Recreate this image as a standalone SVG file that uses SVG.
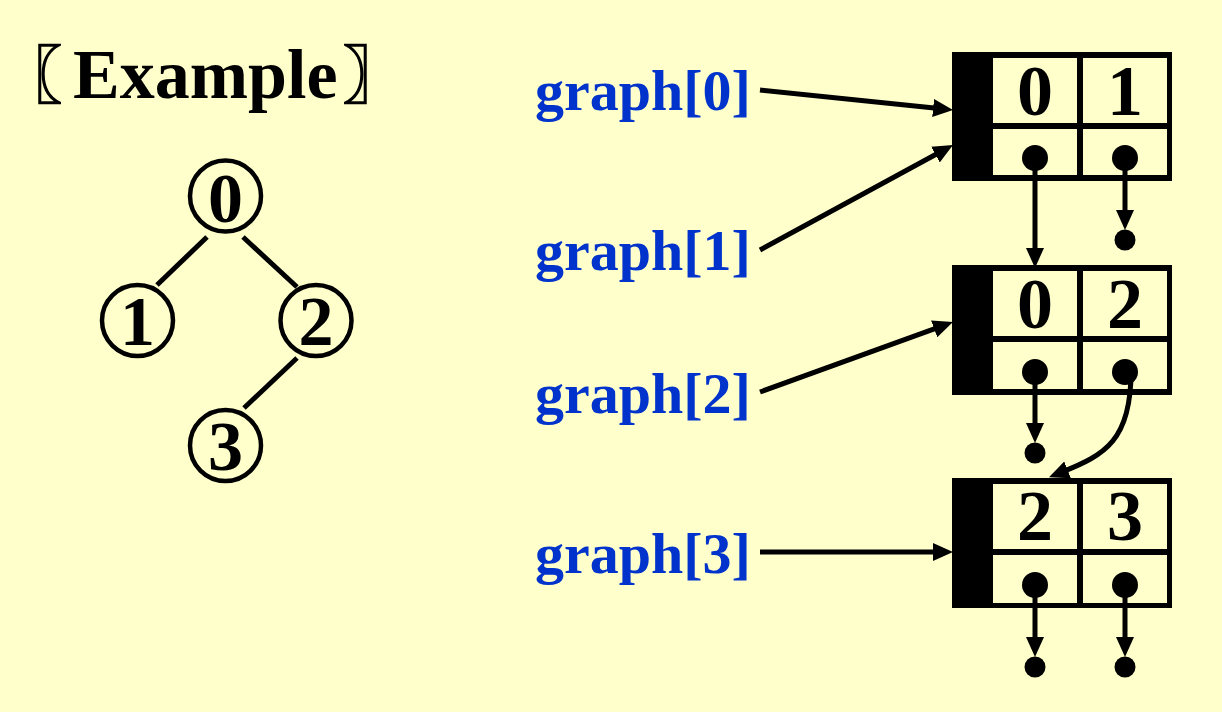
<svg xmlns="http://www.w3.org/2000/svg" width="1222" height="712" viewBox="0 0 1222 712">
<style>
.bg{fill:#FFFFCC}
.cell{fill:#FFFFCC}
.blk{fill:#000}
.num{font-family:"Liberation Serif","Times New Roman",serif;font-weight:bold;font-size:72px;fill:#000;text-anchor:middle}
.lbl{font-family:"Liberation Serif","Times New Roman",serif;font-weight:bold;font-size:58px;fill:#0033CC}
.title{font-family:"Liberation Serif","Times New Roman",serif;font-weight:bold;font-size:70px;fill:#000}
.cjk{font-family:"Noto Sans CJK SC",sans-serif;font-weight:bold;stroke:#000;stroke-width:1.5}
.tnode{fill:none;stroke:#000;stroke-width:4.5}
.tnum{font-family:"Liberation Serif","Times New Roman",serif;font-weight:bold;font-size:70px;fill:#000;text-anchor:middle}
.edge{stroke:#000;stroke-width:5;fill:none}
.conn{stroke:#000;stroke-width:5;fill:none;marker-end:url(#ah)}
.dot{fill:#000}
</style>
<defs>
<marker id="ah" markerUnits="userSpaceOnUse" markerWidth="20" markerHeight="18" refX="6" refY="9" orient="auto" viewBox="0 0 20 18">
<path d="M0,0 L20,9 L0,18 z" fill="#000"/>
</marker>
</defs>
<rect class="bg" x="0" y="0" width="1222" height="712"/>

<text id="title" class="title" y="98"><tspan class="cjk" x="0" font-size="62">〖</tspan><tspan x="73">Example</tspan><tspan class="cjk" x="343" font-size="62">〗</tspan></text>

<g id="tree">
<g id="edges-tree">
<line class="edge" x1="207" y1="237" x2="157" y2="285"/>
<line class="edge" x1="243" y1="237" x2="297" y2="287"/>
<line class="edge" x1="297" y1="358" x2="244" y2="408"/>
</g>
<g id="t0"><circle class="tnode" cx="225.5" cy="196" r="35.5"/><text class="tnum" x="225.5" y="222">0</text></g>
<g id="t1"><circle class="tnode" cx="137.5" cy="320.5" r="35.5"/><text class="tnum" x="137.5" y="345">1</text></g>
<g id="t2"><circle class="tnode" cx="316" cy="320.5" r="35.5"/><text class="tnum" x="316" y="345">2</text></g>
<g id="t3"><circle class="tnode" cx="225.5" cy="445.5" r="35.5"/><text class="tnum" x="225.5" y="470">3</text></g>
</g>

<g id="labels">
<text id="g0" class="lbl" x="535" y="110">graph[0]</text>
<text id="g1" class="lbl" x="535" y="270">graph[1]</text>
<text id="g2" class="lbl" x="535" y="413">graph[2]</text>
<text id="g3" class="lbl" x="535" y="573">graph[3]</text>
</g>

<g id="box1">
<rect class="blk" x="952" y="52" width="220" height="129"/>
<rect class="cell" x="993" y="58" width="84" height="65"/>
<rect class="cell" x="1083" y="58" width="84" height="65"/>
<rect class="cell" x="993" y="129" width="84" height="46"/>
<rect class="cell" x="1083" y="129" width="84" height="46"/>
<text class="num" x="1035" y="115">0</text>
<text class="num" x="1125" y="115">1</text>
<circle class="dot" cx="1035" cy="158" r="13"/>
<circle class="dot" cx="1125" cy="158" r="13"/>
</g>

<g id="box2">
<rect class="blk" x="952" y="265" width="220" height="130"/>
<rect class="cell" x="993" y="271" width="84" height="65"/>
<rect class="cell" x="1083" y="271" width="84" height="65"/>
<rect class="cell" x="993" y="342" width="84" height="47"/>
<rect class="cell" x="1083" y="342" width="84" height="47"/>
<text class="num" x="1035" y="328">0</text>
<text class="num" x="1125" y="328">2</text>
<circle class="dot" cx="1035" cy="372" r="13"/>
<circle class="dot" cx="1125" cy="372" r="13"/>
</g>

<g id="box3">
<rect class="blk" x="952" y="478" width="220" height="130"/>
<rect class="cell" x="993" y="484" width="84" height="65"/>
<rect class="cell" x="1083" y="484" width="84" height="65"/>
<rect class="cell" x="993" y="555" width="84" height="48"/>
<rect class="cell" x="1083" y="555" width="84" height="48"/>
<text class="num" x="1035" y="540">2</text>
<text class="num" x="1125" y="540">3</text>
<circle class="dot" cx="1035" cy="585" r="13"/>
<circle class="dot" cx="1125" cy="585" r="13"/>
</g>

<g id="nulls">
<circle class="dot" cx="1125" cy="240" r="10.5"/>
<circle class="dot" cx="1035" cy="453" r="10.5"/>
<circle class="dot" cx="1035" cy="667" r="10.5"/>
<circle class="dot" cx="1125" cy="667" r="10.5"/>
</g>

<g id="connectors">
<line class="conn" x1="760" y1="90" x2="939.1" y2="108.6"/>
<line class="conn" x1="760" y1="250" x2="940.7" y2="151.7"/>
<line class="conn" x1="760" y1="392" x2="939.8" y2="326.8"/>
<line class="conn" x1="760" y1="552" x2="939" y2="552"/>
<line class="conn" x1="1035" y1="158" x2="1035" y2="254"/>
<line class="conn" x1="1125" y1="158" x2="1125" y2="216"/>
<line class="conn" x1="1035" y1="372" x2="1035" y2="429"/>
<path class="conn" d="M1131,372 C1131,440 1105,455 1062,472"/>
<line class="conn" x1="1035" y1="585" x2="1035" y2="643"/>
<line class="conn" x1="1125" y1="585" x2="1125" y2="643"/>
</g>
</svg>
